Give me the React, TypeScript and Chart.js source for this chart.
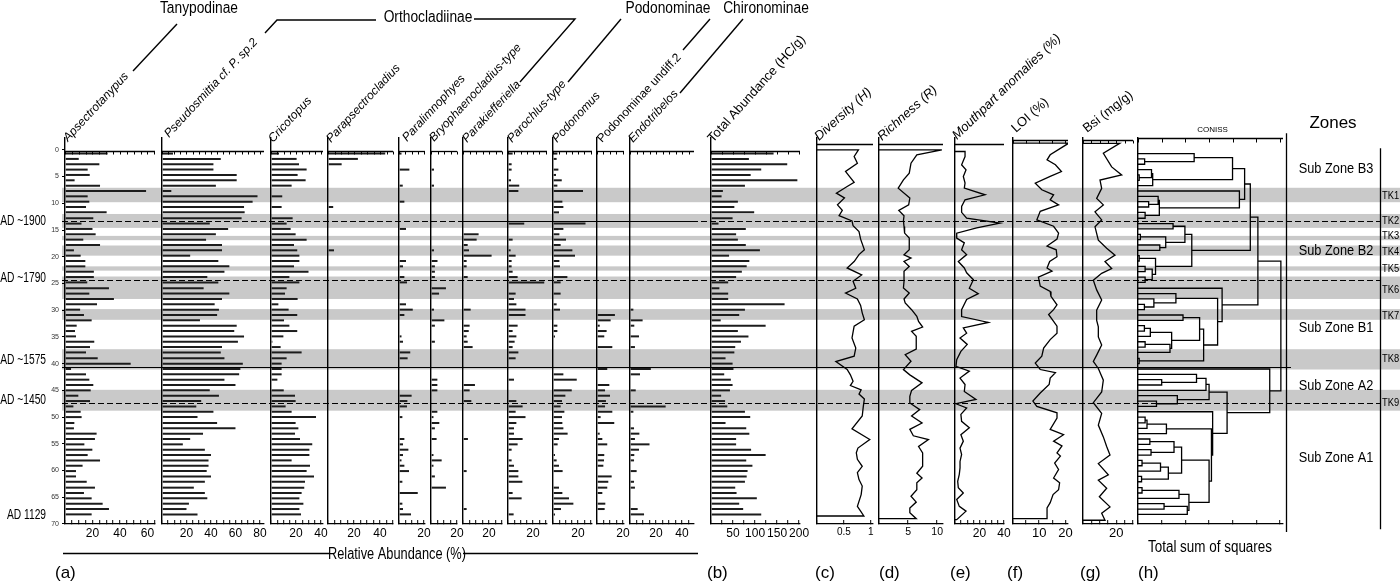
import React, { useEffect, useRef } from 'react';
import { Chart, registerables } from 'chart.js';

Chart.register(...registerables);

const FONT = "'Liberation Sans', Arial, Helvetica, sans-serif";

/* ================= DATA ================= */
// sample depths (cm)
const DEPTHS = [0.7, 1.7, 2.7, 3.7, 4.7, 5.7, 6.7, 7.7, 8.7, 9.7, 10.7, 11.7, 12.8, 13.8, 14.8, 15.8, 16.8, 17.8, 18.8, 19.8,
  20.8, 21.8, 22.8, 23.8, 24.8, 25.9, 26.9, 27.9, 28.9, 29.9, 30.9, 31.9, 32.9, 33.9, 34.9, 35.9, 36.9, 37.9, 39.0, 40.0,
  41.0, 42.0, 43.0, 44.0, 45.0, 46.0, 47.0, 48.0, 49.0, 50.0, 51.1, 52.1, 53.1, 54.1, 55.1, 56.1, 57.1, 58.1, 59.1, 60.1,
  61.1, 62.1, 63.2, 64.2, 65.2, 66.2, 67.2, 68.2];

// relative abundances (%)
const APSE = [31, 10, 25, 16.5, 18, 7, 25.5, 59, 16.5, 17.7, 15.3, 30.3, 20.6, 12, 20, 22.3, 13.3, 25.5, 6.5, 11.4,
  14.8, 14.8, 21, 21, 16.2, 32, 17.7, 35.6, 23.3, 11, 13.8, 19.4, 8.5, 7.3, 8, 21.3, 18.2, 15.3, 23.8, 47.8,
  4.4, 15.3, 17.7, 20.6, 18.7, 9.7, 18.2, 6.1, 11.4, 12.1, 6.8, 6.5, 23, 21.8, 14.1, 19.9, 16.5, 25.5, 12.8, 8,
  8, 15.8, 21.8, 13.8, 19.4, 27.4, 32, 19.4];
const PSEU = [9, 48, 42, 42, 61, 61, 44, 7.6, 78, 74, 67, 67.5, 65, 39, 54, 44, 36, 49, 49, 23,
  46, 55, 51, 37, 46, 34, 55, 49, 43, 46.5, 45, 31, 61, 59, 67, 62, 49, 48, 51, 66,
  64, 63, 51, 60, 39, 46.5, 32, 28, 42, 29, 45, 60, 33.5, 23, 17, 35, 40, 38, 38, 36.5,
  40, 35, 26, 35, 37, 22, 20, 29];
const CRIC = [6.4, 20.5, 22.4, 28.5, 21.3, 27.7, 16.5, 0, 9, 0, 8.5, 0, 17.3, 12.5, 15.7, 19.7, 28.5, 18.4, 21, 22.7,
  22.7, 18.4, 30, 14.7, 22.7, 12.5, 11.2, 21.3, 5.9, 14.1, 21, 10.4, 14.7, 21, 9.9, 1.1, 7.7, 24.5, 12.5, 8.5,
  8.5, 8.5, 5.1, 0, 10.2, 19.2, 19.7, 11.7, 16.5, 36, 19.7, 21.9, 19.2, 23.2, 33, 30.7, 30.7, 16.5, 31.2, 28.5,
  34.4, 27.2, 26.6, 24.5, 22.7, 25.9, 22.7, 24];
const PARAP = [44, 23, 10.5, 0, 0, 0, 0, 0, 0, 0, 4, 0, 0, 0, 0, 0, 0, 0, 4.6, 0,
  0, 0, 0, 0, 0, 0, 0, 0, 0, 0, 0, 0, 0, 0, 0, 0, 0, 0, 0, 0,
  0, 0, 0, 0, 0, 0, 0, 0, 0, 0, 0, 0, 0, 0, 0, 0, 0, 0, 0, 0,
  0, 0, 0, 0, 0, 0, 0, 0];
const PARAL = [2, 0, 0, 8.3, 0, 0, 3, 0, 0, 4.3, 0, 0, 0, 0, 5.6, 0, 0, 0, 0, 0,
  5.6, 3.2, 0, 4.3, 6.4, 0, 0, 0, 5.6, 11, 4.3, 0, 0, 0, 2, 3.2, 0, 9, 6.9, 0,
  0, 0, 0, 0, 0, 10.1, 6.7, 6.4, 0, 2.7, 0, 0, 0, 4.3, 3.2, 7.5, 3.2, 2, 4.3, 8,
  0, 2.7, 0, 15, 0, 2.7, 3.2, 9.6];
const BRYO = [0, 0, 0, 2.3, 0, 0, 2.3, 0, 0, 0, 0, 0, 0, 0, 0, 0, 0, 0, 2.3, 0,
  5, 3, 3, 3, 0, 11.5, 6.2, 0, 0, 2.3, 0, 10.3, 3, 0, 0, 3, 0, 0, 0, 0,
  0, 0, 4.9, 4.9, 4.9, 0, 0, 0, 4.9, 1.9, 6.4, 3, 0, 4.3, 0, 0, 1.9, 8.2, 1.9, 0,
  3, 0, 11.5, 0, 0, 0, 0, 0];
const PARAK = [0, 0, 0, 0, 0, 0, 0, 0, 0, 0, 0, 0, 0, 0, 0, 12, 10.5, 3.6, 4.6, 22,
  2.8, 2.8, 0, 3.6, 0, 0, 0, 0, 0, 5.9, 0, 0, 5.1, 4.4, 2.8, 3.6, 7.4, 0, 0, 0,
  0, 0, 0, 9.2, 5.1, 0, 6.4, 0, 0, 0, 0, 0, 0, 3.8, 0, 0, 0, 0, 0, 2.8,
  0, 0, 0, 0, 0, 0, 2.8, 0];
const PAROC = [3.7, 0, 2.9, 2.9, 0, 2.4, 9, 8.3, 0, 0, 0, 0, 0, 13, 0, 0, 3.7, 0, 2.1, 6.1,
  2.9, 2.9, 3.7, 7.7, 29, 0, 6.1, 4.8, 6.7, 14, 14, 0, 7.7, 3.7, 6.7, 5.3, 3.7, 8.3, 6.1, 0,
  0, 0, 4.8, 0, 0, 0, 6.7, 11.7, 6.1, 14, 6.7, 4.8, 4.8, 11.7, 7.7, 2.9, 0, 2.9, 4.8, 8.3,
  8.3, 11.5, 0, 3.7, 10.9, 0, 0, 4.5];
const PODON = [3.5, 2.9, 0, 4.3, 2.4, 7, 3.5, 24, 0, 7.5, 8.3, 4.8, 0, 26, 8.3, 5.1, 10.4, 6.1, 15.5, 17.6,
  5.1, 5.6, 0, 11.5, 6.1, 0, 6.1, 0, 2.9, 5.6, 0, 0, 3.5, 3.5, 1.6, 0, 0, 0, 0, 0,
  0, 8.3, 19, 0, 15, 9.9, 7.2, 6.1, 9.1, 7.2, 7.5, 8.3, 11.7, 4.8, 3.7, 0, 1.6, 2.9, 4.8, 7.7,
  0, 0, 4.8, 7.5, 12.8, 16.3, 6.4, 1.6];
const PODUND = [0, 0, 0, 0, 0, 0, 0, 0, 0, 0, 0, 0, 0, 0, 0, 0, 0, 0, 0, 0,
  0, 0, 0, 0, 0, 0, 0, 0, 0, 0, 13.8, 10.5, 2.1, 7.4, 5.6, 0, 11.8, 0, 0, 0,
  7.9, 0, 0, 9.5, 6.2, 10, 6.9, 6.2, 11.8, 2.8, 13.3, 0, 2.1, 4.1, 7.9, 0, 5.6, 5.4, 4.9, 0,
  11.3, 8.7, 7.9, 4.1, 0, 6.4, 5.9, 0];
const ENDO = [0, 0, 0, 0, 0, 0, 0, 0, 0, 0, 0, 0, 0, 0, 0, 0, 0, 0, 0, 0,
  0, 0, 0, 0, 0, 0, 0, 0, 0, 2.6, 0, 9.7, 3.3, 0, 6.9, 0, 3.8, 0, 0, 0,
  16, 7.7, 0, 0, 4.4, 0, 0, 27.4, 2.6, 0, 0, 3.1, 7.2, 3.8, 15, 6.9, 3.3, 3.1, 0, 5.1,
  0, 3.1, 3.8, 0, 0, 0, 5.9, 10.8];
// total abundance (HC/g)
const TOTAL = [142, 86, 173, 114, 90, 196, 77, 27, 24, 61, 53, 98, 49, 17, 79, 57, 61, 79, 111, 41,
  87, 81, 70, 57, 39, 19, 39, 39, 167, 77, 64, 22, 124, 61, 85, 68, 55, 53, 33, 49,
  51, 30, 45, 49, 43, 23, 32, 37, 77, 89, 33, 80, 87, 57, 57, 91, 124, 80, 94, 83,
  81, 77, 55, 58, 104, 64, 73, 114];

// profile curves
const DIV_DEPTH = [0, 1.25, 2.5, 4.05, 4.7, 6.1, 6.85, 8.1, 9.0, 10.3, 11.3, 12.3, 13.3, 14.2, 15.3, 16.7, 18.7, 19.6, 20.9, 22.1,
  23.4, 24.6, 25.9, 26.8, 27.9, 29.1, 30.5, 31.8, 33.0, 35.2, 37.1, 38.6, 39.6, 41.1, 42.1, 43.3, 44.1, 44.9, 45.7, 46.6,
  48.0, 49.8, 52.2, 54.2, 55.8, 56.7, 57.9, 59.2, 60.4, 61.7, 62.9, 64.5, 66.7, 67.6, 68.5];
const DIV_VALUE = [0.77, 0.69, 0.75, 0.53, 0.58, 0.69, 0.56, 0.36, 0.51, 0.38, 0.47, 0.41, 0.65, 0.67, 0.78, 0.81, 0.88, 0.78, 0.69, 0.56,
  0.83, 0.67, 0.72, 0.53, 0.75, 0.81, 0.84, 0.88, 0.69, 0.65, 0.72, 0.69, 0.35, 0.56, 0.62, 0.67, 0.62, 0.82, 0.78, 0.88,
  0.86, 0.84, 0.65, 0.98, 0.76, 0.73, 0.75, 0.84, 0.75, 0.78, 0.84, 0.82, 0.75, 0.81, 0.87];
const RICH_DEPTH = [0, 0.93, 2.49, 4.36, 5.61, 7.17, 9.03, 10.28, 11.34, 12.34, 13.27, 14.33, 15.58, 16.51, 18.69, 19.63, 20.25, 20.87, 21.81, 22.74,
  23.68, 24.61, 25.86, 26.79, 27.91, 28.66, 29.91, 31.15, 32.09, 33.15, 33.96, 34.89, 36.01, 37.26, 38.32, 39.56, 41.12,
  42.1, 43.6, 45.0, 46.1, 47.35, 48.6, 49.8, 51.1, 52.3, 53.5, 54.2, 55.5, 56.7, 58.0, 59.2, 60.5, 61.4, 62.3, 63.6, 64.8,
  65.9, 67.0, 67.9, 69.0];
const RICH_VALUE = [10.8, 6.5, 5.5, 5.2, 4.2, 3.3, 5.3, 5.1, 3.4, 4.3, 4.2, 4.3, 4.4, 5.2, 5.2, 4.3, 5.5, 4.3, 5.2, 4.3,
  4.3, 4.3, 4.2, 5.2, 4.3, 4.5, 5.6, 6.5, 6.8, 7.5, 5.6, 6.4, 6.4, 6.4, 4.5, 5.5, 4.2,
  5.3, 7.4, 5.6, 5.3, 5.3, 7.0, 5.6, 7.4, 5.3, 5.9, 8.5, 6.8, 7.5, 7.5, 7.5, 6.5, 7.4, 6.5, 6.5, 5.5,
  6.4, 5.3, 5.3, 6.4];
const MOUTH_DEPTH = [0.31, 1.25, 2.8, 3.74, 4.98, 6.23, 7.17, 8.41, 9.35, 10.6, 11.7, 12.8, 13.7, 14.6, 15.6, 16.5, 17.4, 18.7, 19.6, 20.9,
  22.1, 23.0, 24.3, 25.9, 26.9, 28.0, 29.9, 31.2, 32.3, 33.3, 34.3, 35.2, 36.4, 37.7, 39.25, 40.5, 41.4, 42.7, 43.9, 45.2,
  46.7, 47.5, 48.3, 49.5, 50.8, 52.0, 53.3, 54.5, 55.8, 57.0, 58.3, 59.5, 60.7, 62.0, 63.2, 64.2, 65.4, 66.7, 67.6, 69.2];
const MOUTH_VALUE = [8.2, 8.2, 5.4, 9, 6.8, 8.2, 7.6, 24.5, 8.2, 5.4, 5.4, 9.5, 36.7, 17.7, 1.4, 1.4, 7.6, 5.4, 9.5, 2.7,
  7.6, 9.5, 15, 11.7, 19, 9.5, 5.4, 5.4, 27.2, 6.8, 9.5, 4.1, 10, 4.8, 1.4, 0.8, 11.7, 4.1, 8.2, 7.6,
  17.1, 0.8, 9.5, 4.8, 5.4, 11.7, 4.8, 6.8, 4.1, 5.4, 4.1, 4.1, 3.5, 2.2, 2.7, 6.8, 1.4, 3.5, 9, 1.4];
const LOI_DEPTH = [-1.25, 0.93, 1.87, 2.8, 4.05, 4.98, 6.23, 7.48, 8.41, 9.35, 10.3, 11.5, 13.1, 14.3, 15.6, 16.7, 18.0, 18.7, 20.0, 20.9,
  22.1, 22.7, 23.8, 25.5, 26.5, 27.4, 29.0, 29.9, 30.8, 32.1, 33.0, 34.3, 35.5, 37.1, 38.6, 39.9, 41.1,
  41.7, 42.7, 43.9, 45.5, 47.0, 48.0, 49.2, 50.2, 52.3, 53.3, 54.5, 55.4, 56.7, 57.3, 58.6, 59.8, 61.4, 62.3, 63.6, 64.5,
  66.0, 67.0, 69.0];
const LOI_VALUE = [21.3, 14.2, 13, 16.2, 18.5, 14.2, 8.5, 11, 15.5, 14.2, 17.4, 10.4, 9.1, 15.5, 17.4, 16.8, 13, 16.5, 16.8, 14,
  13, 14.9, 9.7, 10.4, 14.2, 14.5, 16.8, 15.5, 13.6, 15.5, 16.8, 16.8, 14.2, 11.7, 11, 8.5, 10.4,
  16.2, 14.2, 13.8, 10.4, 7.6, 9.1, 16.8, 16.8, 14.2, 19.3, 15.5, 18.7, 16.8, 18.1, 15.9, 17.4, 15.5, 17.8, 17.4, 15.3,
  14.2, 13, 13];
const BSI_DEPTH = [-1.2, 0.65, 3.2, 4.7, 5.65, 7.2, 9.1, 10.3, 11.6, 13.1, 14.4, 16.9, 18.4, 19.7, 20.9, 22.2, 23.1, 24.4, 26.2, 28.1,
  30.0, 31.9, 33.1, 35.0, 36.5, 38.4, 39.6, 40.9, 43.1, 45.3, 47.3, 49.3, 51.5, 53.7, 55.5, 57.1, 58.7, 60.8, 61.8, 63.3,
  64.9, 66.8, 68.0, 69.3];
const BSI_VALUE = [22, 12.2, 17.2, 23.2, 10.2, 11.2, 8.2, 12.2, 7.2, 11.2, 7.2, 9.2, 14.2, 19.2, 13.2, 17.2, 11.2, 6.2, 8.2, 11.2,
  8.2, 8.2, 9.2, 9.2, 11.2, 8.2, 6.2, 9.2, 12.2, 11.2, 6.2, 11.2, 9.2, 12.2, 14.2, 16.2, 9.2, 15.2, 9.2, 14.2,
  9.8, 16.2, 11.2, 13.2];

// CONISS clustering: [left, right, total sum of squares]; leaves = sample numbers
const CL_B3a = [1, [2, 3, 0.28], 2.37];
const CL_B3b = [[4, [5, 6, 0.05], 0.57], 7, 0.62];
const CL_B3c = [8, [[9, [10, 11, 0.45], 0.85], [12, 13, 0.3], 0.9], 4.28];
const CL_B3 = [[CL_B3a, CL_B3b, 3.99], CL_B3c, 4.5];
const CL_B2a = [[14, 15, 1.48], [[16, 17, 0.1], [18, 19, 0.92], 1.17], 1.98];
const CL_B2b = [[20, 21, 0.05], [[22, 23, 0.3], [24, 25, 0.3], 0.6], 0.74];
const CL_B2 = [CL_B2a, CL_B2b, 2.27];
const CL_B1a = [27, [28, [29, 30, 0.27], 0.67], 1.6];
const CL_B1b = [[31, 32, 1.9], [[[33, 34, 0.27], 35, 0.52], [[36, 37, 0.3], 38, 1.35], 1.42], 2.6];
const CL_B1 = [26, [CL_B1a, [CL_B1b, [39, 40, 0.05], 2.77], 3.36], 3.55];
const CL_A2 = [[[42, [43, 44, 1.0], 2.47], 45, 2.87], [46, [47, 48, 0.78], 1.66], 3.0];
const CL_A1a = [[[50, 51, 0.3], 52, 0.38], 53, 1.2];
const CL_A1b = [[[[54, 55, 0.5], [56, 57, 0.55], 1.52], [[[58, 59, 0.17], 60, 0.95], [61, 62, 0.15], 1.28], 1.84],
  [[[63, 64, 0.17], 65, 1.73], [[66, 67, 1.1], 68, 2.08], 2.15], 3.0];
const CL_A1 = [49, [CL_A1a, CL_A1b, 3.1], 3.15];
const CONISS_TREE = [[[CL_B3, CL_B2, 4.74], CL_B1, 5.06], [41, [CL_A2, CL_A1, 3.76], 5.56], 6.03];

// depth markers
const TK_NAMES = ['TK1', 'TK2', 'TK3', 'TK4', 'TK5', 'TK6', 'TK7', 'TK8', 'TK9'];
const TK_TOP = [7.1, 12.0, 16.1, 17.9, 21.8, 23.7, 29.8, 37.3, 44.9];
const TK_BOTTOM = [9.8, 14.6, 16.9, 19.8, 22.6, 27.9, 31.8, 41.1, 48.8];
const TK_LABEL_DEPTH = [8.6, 13.3, 16.1, 19.1, 22.3, 26.2, 31.1, 39.2, 47.4];
const ZONE_NAMES = ['Sub Zone B3', 'Sub Zone B2', 'Sub Zone B1', 'Sub Zone A2', 'Sub Zone A1'];
const ZONE_DEPTH = [3.6, 18.9, 33.3, 44.2, 57.7];
const DATE_NAMES = ['AD ~1900', 'AD ~1790', 'AD ~1575', 'AD ~1450', 'AD 1129'];
const DATE_DEPTH = [13.3, 24.0, 39.3, 46.8, 68.3];
const DASHED_DEPTH = [13.3, 24.4, 47.4];
const SOLID_DEPTH = 40.6;

/* ================= LAYOUT ================= */
type Panel = {
  id: string; kind: string; left: number; right: number; max: number; step: number; labels: number[];
  tickFont: number; topDepth: number; topTicks: number; title?: string; italic?: boolean; tsize?: number;
  tx?: number; ty?: number; rot?: number;
};
const PANELS: Panel[] = [
  { id: 'apse', kind: 'bar', left: 65, right: 155, max: 65.5, step: 5, labels: [20, 40, 60], tickFont: 12, topDepth: 0.15, topTicks: 3, title: 'Apsectrotanypus', italic: true, tsize: 12, tx: 3, ty: 142, rot: 47 },
  { id: 'pseu', kind: 'bar', left: 162, right: 264, max: 83.3, step: 5, labels: [20, 40, 60, 80], tickFont: 12, topDepth: 0.15, topTicks: 3, title: 'Pseudosmittia cf. P. sp.2', italic: true, tsize: 12, tx: 7, ty: 138, rot: 47 },
  { id: 'cric', kind: 'bar', left: 271, right: 323, max: 41.6, step: 5, labels: [20, 40], tickFont: 12, topDepth: 0.15, topTicks: 3, title: 'Cricotopus', italic: true, tsize: 12, tx: 2, ty: 143, rot: 47 },
  { id: 'parap', kind: 'bar', left: 328, right: 393, max: 50, step: 5, labels: [20, 40], tickFont: 12, topDepth: 0.15, topTicks: 3, title: 'Parapsectrocladius', italic: true, tsize: 12, tx: 3, ty: 143, rot: 47 },
  { id: 'paral', kind: 'bar', left: 399, right: 425, max: 20.8, step: 5, labels: [20], tickFont: 12, topDepth: 0.15, topTicks: 3, title: 'Paralimnophyes', italic: true, tsize: 12, tx: 8, ty: 142, rot: 47 },
  { id: 'bryo', kind: 'bar', left: 431, right: 457, max: 20, step: 5, labels: [20], tickFont: 12, topDepth: 0.15, topTicks: 3, title: 'Bryophaenocladius-type', italic: true, tsize: 12, tx: 3, ty: 142, rot: 47 },
  { id: 'parak', kind: 'bar', left: 463, right: 502, max: 30, step: 5, labels: [20], tickFont: 12, topDepth: 0.15, topTicks: 3, title: 'Parakiefferiella', italic: true, tsize: 12, tx: 4, ty: 143, rot: 47 },
  { id: 'paroc', kind: 'bar', left: 508, right: 547, max: 31.2, step: 5, labels: [20], tickFont: 12, topDepth: 0.15, topTicks: 3, title: 'Parochlus-type', italic: true, tsize: 12, tx: 4, ty: 143, rot: 47 },
  { id: 'podon', kind: 'bar', left: 553, right: 592, max: 31.2, step: 5, labels: [20], tickFont: 12, topDepth: 0.15, topTicks: 3, title: 'Podonomus', italic: true, tsize: 12, tx: 4, ty: 143, rot: 47 },
  { id: 'podund', kind: 'bar', left: 597, right: 624, max: 20.8, step: 5, labels: [20], tickFont: 12, topDepth: 0.15, topTicks: 3, title: 'Podonominae undiff.2', italic: false, tsize: 12, tx: 5, ty: 143, rot: 47 },
  { id: 'endo', kind: 'bar', left: 630, right: 694, max: 49.2, step: 5, labels: [20, 40], tickFont: 12, topDepth: 0.15, topTicks: 3, title: 'Endotribelos', italic: true, tsize: 12, tx: 3, ty: 143, rot: 47 },
  { id: 'total', kind: 'bar', left: 711, right: 800, max: 202, step: 25, labels: [50, 100, 150, 200], tickFont: 12, topDepth: 0.15, topTicks: 3, title: 'Total Abundance (HC/g)', italic: false, tsize: 13, tx: 2, ty: 143, rot: 48 },
  { id: 'div', kind: 'line', left: 817, right: 873, max: 1.04, step: 0.5, labels: [0.5, 1], tickFont: 10, topDepth: -1.0, topTicks: 0, title: 'Diversity (H)', italic: true, tsize: 13, tx: 2, ty: 141, rot: 42 },
  { id: 'rich', kind: 'line', left: 879, right: 943, max: 11, step: 5, labels: [5, 10], tickFont: 10.5, topDepth: -1.0, topTicks: 0, title: 'Richness (R)', italic: true, tsize: 13, tx: 3, ty: 141, rot: 42 },
  { id: 'mouth', kind: 'line', left: 955, right: 1004, max: 40, step: 5, labels: [20, 40], tickFont: 12, topDepth: -1.1, topTicks: 0, title: 'Mouthpart anomalies (%)', italic: true, tsize: 13, tx: 2, ty: 140, rot: 44 },
  { id: 'loi', kind: 'line', left: 1013, right: 1068, max: 21, step: 5, labels: [10, 20], tickFont: 13, topDepth: -1.85, topTicks: 3, title: 'LOI (%)', italic: false, tsize: 13, tx: 3, ty: 133, rot: 42 },
  { id: 'bsi', kind: 'line', left: 1083, right: 1133, max: 30, step: 5, labels: [20], tickFont: 13, topDepth: -1.85, topTicks: 3, title: 'Bsi (mg/g)', italic: false, tsize: 13, tx: 4, ty: 133, rot: 38 },
  { id: 'coniss', kind: 'tree', left: 1138, right: 1283, max: 6.12, step: 1, labels: [], tickFont: 12, topDepth: -2.2, topTicks: 4 },
];
const CHART_LEFT = 65;
const CHART_RIGHT = 1400;

const BAR_SERIES: Record<string, number[]> = {
  apse: APSE, pseu: PSEU, cric: CRIC, parap: PARAP, paral: PARAL, bryo: BRYO, parak: PARAK,
  paroc: PAROC, podon: PODON, podund: PODUND, endo: ENDO, total: TOTAL,
};
const CURVE_SERIES: Record<string, [number[], number[]]> = {
  div: [DIV_DEPTH, DIV_VALUE], rich: [RICH_DEPTH, RICH_VALUE], mouth: [MOUTH_DEPTH, MOUTH_VALUE],
  loi: [LOI_DEPTH, LOI_VALUE], bsi: [BSI_DEPTH, BSI_VALUE],
};

const FAMILY_LABELS = [
  { text: 'Tanypodinae', x: 199, y: 13 },
  { text: 'Orthocladiinae', x: 428, y: 22 },
  { text: 'Podonominae', x: 668, y: 13 },
  { text: 'Chironominae', x: 766, y: 13 },
];
const LEADERS = [
  [[177, 24], [133, 71]],
  [[265, 33], [277, 20], [376, 20]],
  [[474, 19], [575, 19], [520, 82]],
  [[621, 19], [568, 82]],
  [[710, 19], [683, 50]],
  [[743, 19], [680, 93]],
];
const PANEL_LETTERS = [['(a)', 55], ['(b)', 707], ['(c)', 815], ['(d)', 879], ['(e)', 950], ['(f)', 1007], ['(g)', 1080], ['(h)', 1138]];

/* ================= HELPERS ================= */
function seg(ctx: any, x1: number, y1: number, x2: number, y2: number) {
  ctx.beginPath();
  ctx.moveTo(x1, y1);
  ctx.lineTo(x2, y2);
  ctx.stroke();
}
function txt(ctx: any, s: string, x: number, y: number, o: any) {
  ctx.save();
  ctx.translate(x, y);
  if (o.rot) ctx.rotate(-o.rot * Math.PI / 180);
  if (o.sx) ctx.scale(o.sx, 1);
  ctx.font = `${o.italic ? 'italic ' : ''}${o.size}px ${FONT}`;
  ctx.textAlign = o.align || 'left';
  ctx.textBaseline = o.baseline || 'alphabetic';
  ctx.fillStyle = o.color || '#000';
  ctx.fillText(s, 0, 0);
  ctx.restore();
}
function treeSegments(node: any, out: any[]): { y: number; h: number } {
  if (typeof node === 'number') return { y: DEPTHS[node - 1], h: 0 };
  const l = treeSegments(node[0], out);
  const r = treeSegments(node[1], out);
  const h = node[2];
  out.push({ x: l.h, y: l.y }, { x: h, y: l.y }, { x: h, y: r.y }, { x: r.h, y: r.y }, { x: NaN, y: NaN });
  return { y: (l.y + r.y) / 2, h };
}

/* ================= PLUGINS ================= */
const backgroundPlugin = {
  id: 'bgBands',
  beforeDraw(chart: any) {
    const ctx = chart.ctx;
    const ys = chart.scales.y;
    ctx.save();
    ctx.fillStyle = '#fff';
    ctx.fillRect(0, 0, chart.width, chart.height);
    ctx.fillStyle = 'rgb(201,201,201)';
    TK_TOP.forEach((t, i) => {
      const y1 = ys.getPixelForValue(t);
      const y2 = ys.getPixelForValue(TK_BOTTOM[i]);
      ctx.fillRect(62, y1, chart.width - 62, y2 - y1);
    });
    ctx.restore();
  },
};

const decorPlugin = {
  id: 'decor',
  afterDraw(chart: any) {
    const ctx = chart.ctx;
    const S = chart.scales;
    const ys = S.y;
    const yp = (d: number) => ys.getPixelForValue(d);
    const W = chart.width;
    const cs = S.x_coniss;
    const zl = cs.right + 3;
    const zr = W - 20;
    ctx.save();
    ctx.strokeStyle = '#000';
    ctx.lineCap = 'butt';

    // dashed date lines
    ctx.lineWidth = 1.2;
    ctx.setLineDash([6, 3]);
    DASHED_DEPTH.forEach((d) => seg(ctx, 62, Math.round(yp(d)) + 0.5, zr + 1, Math.round(yp(d)) + 0.5));
    ctx.setLineDash([]);
    seg(ctx, 62, Math.round(yp(SOLID_DEPTH)) + 0.5, cs.right + 8, Math.round(yp(SOLID_DEPTH)) + 0.5);
    seg(ctx, S.x_parak.left, Math.round(yp(DASHED_DEPTH[0])) + 0.5, S.x_endo.right, Math.round(yp(DASHED_DEPTH[0])) + 0.5);

    // top lines of each panel + rotated titles
    ctx.lineWidth = 1.3;
    PANELS.forEach((p) => {
      const s = S['x_' + p.id];
      const ty = Math.round(yp(p.topDepth)) + 0.5;
      seg(ctx, s.left, ty, s.right, ty);
      if (p.topTicks) {
        ctx.lineWidth = 1;
        s.ticks.forEach((t: any) => {
          const x = Math.round(s.getPixelForValue(t.value)) + 0.5;
          seg(ctx, x, ty, x, ty + p.topTicks);
        });
        ctx.lineWidth = 1.3;
      }
      if (p.title) {
        txt(ctx, p.title, s.left + (p.tx || 0), p.ty || 142, { size: p.tsize || 12, italic: p.italic, rot: p.rot || 47 });
      }
    });

    // zone column
    ctx.lineWidth = 1.3;
    seg(ctx, zl + 0.5, yp(-3.1), zl + 0.5, yp(71.5));
    seg(ctx, zr + 0.5, yp(-0.3), zr + 0.5, yp(71.0));
    txt(ctx, 'Zones', (zl + zr) / 2, 128, { size: 17, align: 'center' });
    ZONE_NAMES.forEach((z, i) => txt(ctx, z, (zl + zr) / 2 + 3, yp(ZONE_DEPTH[i]), { size: 14.5, align: 'center', baseline: 'middle', sx: 0.88 }));
    TK_NAMES.forEach((t, i) => txt(ctx, t, zr + 2, yp(TK_LABEL_DEPTH[i]), { size: 11, baseline: 'middle', sx: 0.85 }));
    txt(ctx, 'CONISS', (cs.left + cs.right) / 2 + 2, 132, { size: 8, align: 'center' });
    txt(ctx, 'Total sum of squares', cs.left + 10, 552, { size: 16, sx: 0.84 });

    // date labels
    DATE_NAMES.forEach((d, i) => txt(ctx, d, 46, yp(DATE_DEPTH[i]), { size: 14, align: 'right', baseline: 'middle', sx: 0.73 }));

    // family labels + leaders
    FAMILY_LABELS.forEach((f) => txt(ctx, f.text, f.x, f.y, { size: 16, align: 'center', sx: 0.86 }));
    ctx.lineWidth = 1.4;
    LEADERS.forEach((pts) => {
      ctx.beginPath();
      ctx.moveTo(pts[0][0], pts[0][1]);
      for (let i = 1; i < pts.length; i++) ctx.lineTo(pts[i][0], pts[i][1]);
      ctx.stroke();
    });

    // relative abundance label
    ctx.lineWidth = 1.3;
    seg(ctx, 63, 553.5, 330, 553.5);
    seg(ctx, 463, 553.5, 698, 553.5);
    txt(ctx, 'Relative Abundance (%)', 397, 559, { size: 16, align: 'center', sx: 0.8 });

    // panel letters
    PANEL_LETTERS.forEach(([t, x]) => txt(ctx, t as string, x as number, 578, { size: 17 }));
    ctx.restore();
  },
};

/* ================= CONFIG ================= */
function buildConfig(): any {
  const scales: any = {
    y: {
      type: 'linear', position: 'left', reverse: true, min: -2.4, max: 70, offset: false,
      afterFit: (s: any) => { s.width = CHART_LEFT; s.paddingTop = 0; s.paddingBottom = 0; },
      border: { display: false },
      grid: { display: true, drawOnChartArea: false, drawTicks: true, tickLength: 3, color: '#000', tickColor: '#000', offset: false },
      ticks: { stepSize: 5, includeBounds: false, autoSkip: false, padding: 3, color: '#333', font: { family: FONT, size: 7 } },
    },
  };
  let prev = CHART_LEFT;
  let gapN = 0;
  const addSpacer = (w: number) => {
    scales['xgap' + gapN++] = {
      type: 'linear', position: 'bottom', stack: 'panels', stackWeight: w, min: 0, max: 1, display: true,
      afterFit: (s: any) => { s.height = 30; s.paddingLeft = 0; s.paddingRight = 0; },
      border: { display: false }, grid: { display: false }, ticks: { display: false },
    };
  };
  PANELS.forEach((p) => {
    if (p.left > prev) addSpacer(p.left - prev);
    scales['x_' + p.id] = {
      type: 'linear', position: 'bottom', stack: 'panels', stackWeight: p.right - p.left,
      min: 0, max: p.max, offset: false,
      afterFit: (s: any) => { s.height = 30; s.paddingLeft = 0; s.paddingRight = 0; s.paddingTop = 0; s.paddingBottom = 0; },
      border: { display: true, color: '#000', width: 1.3 },
      grid: {
        display: true, drawOnChartArea: true, drawTicks: true, tickLength: -4, offset: false,
        lineWidth: 1.4, tickWidth: 1, tickColor: '#000',
        color: (c: any) => (c.tick && c.tick.value === 0 ? '#000' : 'rgba(0,0,0,0)'),
      },
      ticks: {
        stepSize: p.step, autoSkip: false, maxRotation: 0, minRotation: 0, includeBounds: false, padding: 6,
        color: '#000', font: { family: FONT, size: p.tickFont },
        callback: (v: any) => (p.labels.some((l) => Math.abs(l - Number(v)) < 1e-9) ? String(v) : ''),
      },
    };
    prev = p.right;
  });
  if (CHART_RIGHT > prev) addSpacer(CHART_RIGHT - prev);

  const datasets: any[] = [];
  PANELS.forEach((p) => {
    if (p.kind === 'bar') {
      const vals = BAR_SERIES[p.id];
      datasets.push({
        type: 'bar', label: p.id, indexAxis: 'y', xAxisID: 'x_' + p.id, yAxisID: 'y',
        data: DEPTHS.map((d, i) => ({ x: vals[i], y: d })).filter((pt) => pt.x > 0),
        backgroundColor: '#1c1c1c', borderWidth: 0, barThickness: 2, grouped: false, inflateAmount: 0,
      });
    } else if (p.kind === 'line') {
      const [dep, val] = CURVE_SERIES[p.id];
      const n = Math.min(dep.length, val.length);
      const pts: any[] = [{ x: 0, y: dep[0] }];
      for (let i = 0; i < n; i++) pts.push({ x: val[i], y: dep[i] });
      pts.push({ x: 0, y: dep[n - 1] });
      datasets.push({
        type: 'line', label: p.id, indexAxis: 'y', xAxisID: 'x_' + p.id, yAxisID: 'y', data: pts,
        borderColor: '#000', borderWidth: 1.3, pointRadius: 0, fill: false, tension: 0, spanGaps: false,
      });
    } else if (p.kind === 'tree') {
      const pts: any[] = [];
      treeSegments(CONISS_TREE, pts);
      datasets.push({
        type: 'line', label: p.id, indexAxis: 'y', xAxisID: 'x_' + p.id, yAxisID: 'y', data: pts,
        borderColor: '#000', borderWidth: 1.3, pointRadius: 0, fill: false, tension: 0, spanGaps: false,
      });
    }
  });

  return {
    type: 'bar',
    data: { datasets },
    options: {
      indexAxis: 'y',
      responsive: false,
      maintainAspectRatio: false,
      animation: false,
      devicePixelRatio: 1,
      events: [],
      layout: { padding: { top: 137, bottom: 31, left: 0, right: 0 } },
      plugins: { legend: { display: false }, tooltip: { enabled: false }, title: { display: false } },
      scales,
    },
    plugins: [backgroundPlugin, decorPlugin],
  };
}

export default function App() {
  const ref = useRef<HTMLCanvasElement | null>(null);
  useEffect(() => {
    if (!ref.current) return;
    const chart = new Chart(ref.current, buildConfig());
    return () => chart.destroy();
  }, []);
  return (
    <div style={{ position: 'absolute', left: 0, top: 0, width: 1400, height: 585, background: '#fff' }}>
      <canvas ref={ref} width={1400} height={585} style={{ display: 'block', width: 1400, height: 585 }} />
    </div>
  );
}
